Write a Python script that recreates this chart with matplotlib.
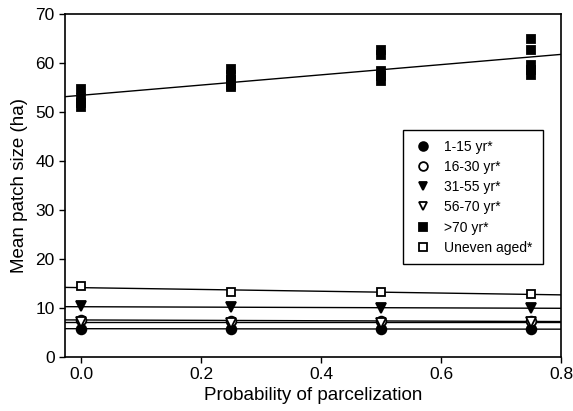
import numpy as np
import matplotlib
matplotlib.use("Agg")
import matplotlib.pyplot as plt

plt.rcParams['font.family'] = ['Liberation Sans', 'DejaVu Sans']

x = [0.0, 0.25, 0.5, 0.75]

age_1_15 = [5.8, 5.7, 5.7, 5.7]
age_16_30 = [7.6, 7.4, 7.3, 7.3]
age_31_55 = [10.3, 10.1, 10.0, 10.0]
age_56_70 = [7.1, 7.0, 7.0, 7.1]
uneven = [14.4, 13.3, 13.2, 12.9]

# >70 yr has several replicate runs at each probability
old_x = [0.0] * 4 + [0.25] * 5 + [0.5] * 5 + [0.75] * 5
old_y = [54.6, 52.8, 51.8, 50.9,
         58.8, 57.5, 56.5, 55.5, 55.0,
         62.6, 61.6, 58.3, 57.2, 56.2,
         64.8, 62.5, 59.5, 58.5, 57.4]

labels = ["1-15 yr*", "16-30 yr*", "31-55 yr*", "56-70 yr*", ">70 yr*", "Uneven aged*"]

fig = plt.figure(figsize=(5.73, 4.11), dpi=100)
ax = fig.add_axes([0.1134, 0.1314, 0.979 - 0.1134, 0.9667 - 0.1314])

xlo, xhi = -0.027, 0.8
xx = np.array([xlo, xhi])

series = [
    (x, age_1_15, dict(marker='o', markersize=7, markerfacecolor='black')),
    (x, age_16_30, dict(marker='o', markersize=7, markerfacecolor='white')),
    (x, age_31_55, dict(marker='v', markersize=7, markerfacecolor='black')),
    (x, age_56_70, dict(marker='v', markersize=7, markerfacecolor='white')),
    (old_x, old_y, dict(marker='s', markersize=6, markerfacecolor='black')),
    (x, uneven, dict(marker='s', markersize=6, markerfacecolor='white')),
]

for (sx, sy, style), lab in zip(series, labels):
    b, a = np.polyfit(sx, sy, 1)
    ax.plot(xx, a + b * xx, color='black', lw=1.0, zorder=2)
    ax.plot(sx, sy, linestyle='none', color='black', markeredgewidth=1.3,
            label=lab, zorder=3, **style)

ax.set_xlim(xlo, xhi)
ax.set_ylim(0, 70)
ax.set_xticks([0.0, 0.2, 0.4, 0.6, 0.8])
ax.set_xticklabels(["0.0", "0.2", "0.4", "0.6", "0.8"])
ax.set_yticks(range(0, 71, 10))
ax.tick_params(direction='out', length=4, width=1, labelsize=12.5)
for s in ax.spines.values():
    s.set_linewidth(1.2)

ax.set_xlabel("Probability of parcelization", fontsize=13.5, labelpad=3)
ax.set_ylabel("Mean patch size (ha)", fontsize=13.5, labelpad=5)

leg = ax.legend(loc='upper left', bbox_to_anchor=(0.667, 0.682), fontsize=10,
                frameon=True, fancybox=False, edgecolor='black', framealpha=1,
                labelspacing=0.45, handletextpad=0.8, borderpad=0.7,
                handlelength=1.5, markerscale=0.9)
leg.get_frame().set_linewidth(1.0)

fig.savefig("out.png", dpi=100)
